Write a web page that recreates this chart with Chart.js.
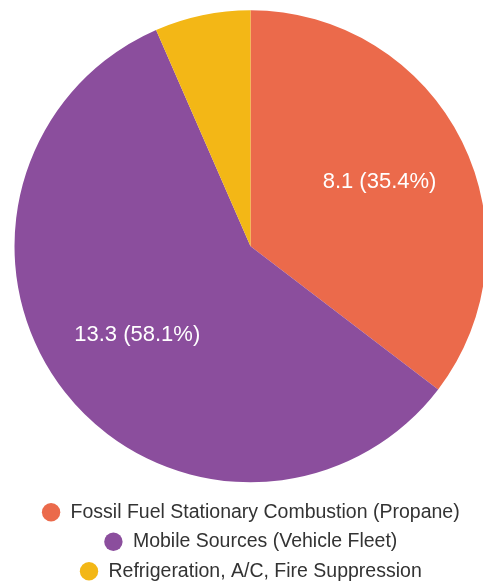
<!DOCTYPE html>
<html lang="en">
<head>
    <meta charset="UTF-8">
    <title>Emissions by Source</title>
    <script src="https://cdn.jsdelivr.net/npm/chart.js"></script>
    <style>
        body { margin: 0; overflow: hidden; background: #fff; }
        .chart-box {
            position: absolute;
            left: 0;
            top: 0;
            width: 501px;
            height: 591px;
        }
    </style>
</head>
<body>
    <div class="chart-box">
        <canvas id="emisionesChart"></canvas>
    </div>

    <script>
        // Fuentes de emisiones y sus valores
        const fuentes = [
            'Fossil Fuel Stationary Combustion (Propane)',
            'Mobile Sources (Vehicle Fleet)',
            'Refrigeration, A/C, Fire Suppression'
        ];
        const valores = [8.1, 13.3, 1.5];
        const colores = ['#EB6A4B', '#8B4E9D', '#F3B716'];

        // Escribe "valor (porcentaje)" dentro de cada porcion grande
        const etiquetasPorcion = {
            id: 'etiquetasPorcion',
            afterDatasetsDraw(chart) {
                const ctx = chart.ctx;
                const datos = chart.data.datasets[0].data;
                const total = datos.reduce((a, b) => a + b, 0);
                ctx.save();
                ctx.font = '22px "Liberation Sans", Arial, sans-serif';
                ctx.fillStyle = '#ffffff';
                ctx.textAlign = 'center';
                ctx.textBaseline = 'middle';
                chart.getDatasetMeta(0).data.forEach((arco, i) => {
                    const pct = datos[i] / total * 100;
                    if (pct < 10) return;
                    const p = arco.getProps(['x', 'y', 'startAngle', 'endAngle', 'outerRadius'], true);
                    const medio = (p.startAngle + p.endAngle) / 2;
                    const r = p.outerRadius * 0.61;
                    const x = p.x + Math.cos(medio) * r;
                    const y = p.y + Math.sin(medio) * r;
                    ctx.fillText(datos[i].toFixed(1) + ' (' + pct.toFixed(1) + '%)', x, y);
                });
                ctx.restore();
            }
        };

        const ctx = document.getElementById('emisionesChart').getContext('2d');
        const emisionesChart = new Chart(ctx, {
            type: 'pie',
            data: {
                labels: fuentes,
                datasets: [{
                    data: valores,
                    backgroundColor: colores,
                    borderWidth: 0,
                    radius: 236
                }]
            },
            options: {
                responsive: true,
                maintainAspectRatio: false,
                animation: false,
                layout: { padding: 0 },
                plugins: {
                    legend: {
                        position: 'bottom',
                        labels: {
                            usePointStyle: true,
                            pointStyle: 'circle',
                            boxHeight: 13,
                            padding: 10,
                            color: '#333333',
                            font: { family: '"Liberation Sans", Arial, sans-serif', size: 19.5 }
                        }
                    },
                    tooltip: { enabled: false }
                }
            },
            plugins: [etiquetasPorcion]
        });
    </script>
</body>
</html>
